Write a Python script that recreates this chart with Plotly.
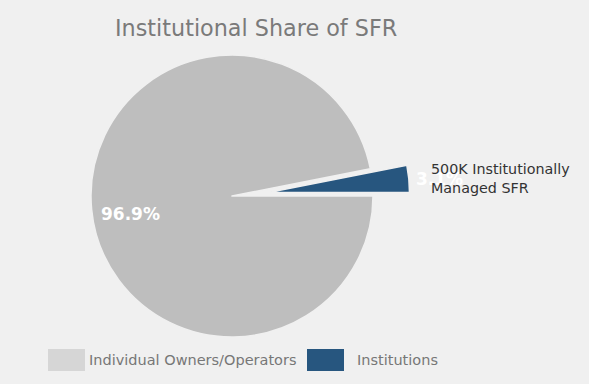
import plotly.graph_objects as go

labels = ["Individual Owners/Operators", "Institutions"]
values = [96.9, 3.1]
colors = ["#bebebe", "#27567f"]
legend_colors = ["#d6d6d6", "#27567f"]
title = "Institutional Share of SFR"
callout = "500K Institutionally<br>Managed SFR"

W, H = 589, 384
cx, cy, r, pull = 232, 196, 141, 0.26
half = r * (1 + pull)

def px(x):
    return x / W

def py(y):
    return 1 - y / H

fig = go.Figure(go.Pie(
    labels=labels, values=values, sort=False, direction="clockwise", rotation=90,
    pull=[0, pull], marker=dict(colors=colors, line=dict(color="#f0f0f0", width=1.5)),
    textinfo="none", hoverinfo="label+percent", showlegend=False,
    domain=dict(x=[px(cx - half), px(cx + half)], y=[py(cy + half), py(cy - half)]),
))

font = "DejaVu Sans"
ann = [
    dict(x=px(99), y=py(214), text=f"<b>{values[0]:.1f}%</b>", showarrow=False, xanchor="left",
         yanchor="middle", font=dict(family=font, size=17, color="white")),
    dict(x=px(414), y=py(179), text=f"<b>{values[1]:.1f}%</b>", showarrow=False, xanchor="left",
         yanchor="middle", font=dict(family=font, size=17, color="white")),
    dict(x=px(429), y=py(179), text=callout, showarrow=False, xanchor="left", align="left",
         yanchor="middle", font=dict(family=font, size=14.3, color="#333333")),
    dict(x=px(256), y=py(28), text=title, showarrow=False, xanchor="center",
         yanchor="middle", font=dict(family=font, size=22.3, color="#7a7a7a")),
]
shapes = []
leg_x = [48, 307]
text_x = [87, 355]
for i, lab in enumerate(labels):
    shapes.append(dict(type="rect", xref="paper", yref="paper", x0=px(leg_x[i]), x1=px(leg_x[i] + 37),
                       y0=py(371), y1=py(349), fillcolor=legend_colors[i], line=dict(width=0)))
    ann.append(dict(x=px(text_x[i]), y=py(360), text=lab, showarrow=False, xanchor="left",
                    yanchor="middle", font=dict(family=font, size=14.5, color="#777777")))

fig.update_layout(
    width=W, height=H, margin=dict(l=0, r=0, t=0, b=0),
    paper_bgcolor="#f0f0f0", plot_bgcolor="#f0f0f0",
    annotations=ann, shapes=shapes,
)
fig.write_html("out.html", config={"displayModeBar": False},
               post_script="document.body.style.margin='0';document.body.style.background='#f0f0f0';")
